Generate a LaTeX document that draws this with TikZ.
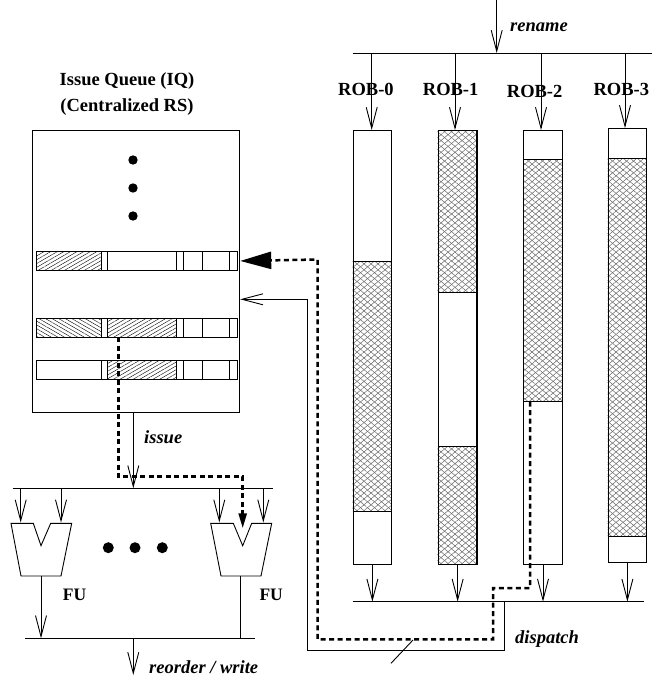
\documentclass[tikz,border=0pt]{standalone}
\usepackage{fontspec}
\setmainfont{Liberation Serif}
\usetikzlibrary{arrows.meta,patterns.meta,calc}
\begin{document}
\begin{tikzpicture}[x=1pt,y=-1pt,
  ln/.style={line width=0.9pt},
  barb/.style={ln,-{Straight Barb[length=21pt,width=11pt]}},
  dsh/.style={line width=2.5pt,dash pattern=on 5pt off 3.5pt},
  box/.style={draw,ln,rectangle,inner sep=0pt,anchor=north west},
  robbox/.style={box,minimum width=38.5pt,minimum height=434pt},
  rowbox/.style={box,minimum width=200.5pt,minimum height=19pt},
  nehatch/.style={pattern={Lines[angle=30,distance=3.3pt,line width=0.4pt]}},
  nwhatch/.style={pattern={Lines[angle=-30,distance=3.3pt,line width=0.4pt]}},
  meshA/.style={pattern={Lines[angle=40,distance=4.5pt,line width=0.5pt]},pattern color=black!60},
  meshB/.style={pattern={Lines[angle=-40,distance=4.5pt,line width=0.5pt]},pattern color=black!60},
  ttl/.style={font=\fontsize{18.5}{22}\selectfont\bfseries,inner sep=0pt,anchor=base},
  robl/.style={font=\fontsize{18.5}{22}\selectfont\bfseries,inner sep=0pt,anchor=base west},
  ful/.style={font=\fontsize{17.5}{20}\selectfont\bfseries,inner sep=0pt,anchor=base west},
  lbl/.style={font=\fontsize{18.5}{22}\selectfont\bfseries\itshape,inner sep=0pt,anchor=base west},
  fushape/.style={draw,ln,line join=miter}
]
\useasboundingbox (0,0) rectangle (652,681);

% ---------------- Issue queue ----------------
\node[ttl] (t1) at (127,85) {Issue Queue (IQ)};
\node[ttl] (t2) at (127,111) {(Centralized RS)};
\node[box,minimum width=207.3pt,minimum height=282pt] (iq) at (32,130) {};
\foreach \dy in {160,188,216} \fill (133,\dy) circle[radius=4.7];

% row 1
\fill[nehatch] (36,251) rectangle (101,270);
\node[rowbox] (row1) at (36,251) {};
\foreach \sx in {101,107.5,176.5,183,202.5,229} \draw[ln] (\sx,251) -- (\sx,270);
% row 2
\fill[nwhatch] (36,318) rectangle (101,337);
\fill[nehatch] (107.5,318) rectangle (176.5,337);
\node[rowbox] (row2) at (36,318) {};
\foreach \sx in {101,107.5,176.5,183,202.5,229} \draw[ln] (\sx,318) -- (\sx,337);
% row 3
\fill[nehatch] (107.5,360) rectangle (176.5,379);
\node[rowbox] (row3) at (36,360) {};
\foreach \sx in {101,107.5,176.5,183,202.5,229} \draw[ln] (\sx,360) -- (\sx,379);

% ---------------- Functional units ----------------
\coordinate (issuetop) at (133.3,412);
\coordinate (fubusL) at (12.7,488.3);
\coordinate (fubusR) at (273.3,488.3);
\draw[ln] (fubusL) -- (fubusR);
\draw[barb] (issuetop) -- (issuetop |- fubusL);
\node[lbl] (issuelbl) at (144,443.3) {issue};

\draw[fushape] (11,523.3) -- (33.3,523.3) -- (41,545.7) -- (50.7,523.3) -- (71.7,523.3) -- (61,576) -- (21,576) -- cycle;
\draw[fushape] (210.7,523.3) -- (233.3,523.3) -- (242.7,545.7) -- (251.7,523.3) -- (271.7,523.3) -- (261,576) -- (221,576) -- cycle;
\coordinate (fu1) at (41,576);
\coordinate (fu2) at (240,576);
\foreach \ax in {20.7,61,219.3,263.3} \draw[barb] (\ax,488.3) -- (\ax,522.5);
\foreach \ax in {108.3,135,162.3} \fill (\ax,547.7) circle[radius=5.5];
\node[ful] (fu1lbl) at (62.7,600) {FU};
\node[ful] (fu2lbl) at (259.3,600.7) {FU};

\coordinate (wbL) at (25,638.3);
\coordinate (wbR) at (255,638.3);
\draw[ln] (wbL) -- (wbR);
\draw[barb] (fu1) -- (fu1 |- wbL);
\draw[ln] (fu2) -- (fu2 |- wbL);
\draw[barb] (133.3,638.3) -- (133.3,675);
\node[lbl] (wrlbl) at (149,673.3) {reorder / write};

% ---------------- ROBs ----------------
\coordinate (renametop) at (496.7,0);
\coordinate (rbusL) at (352.7,53);
\coordinate (rbusR) at (652,53);
\draw[ln] (rbusL) -- (rbusR);
\draw[barb] (renametop) -- (renametop |- rbusL);
\node[lbl] (renamelbl) at (510,31.7) {rename};

% hatched parts
\fill[meshA] (352.7,261.7) rectangle (391.2,511.7);
\fill[meshB] (352.7,261.7) rectangle (391.2,511.7);
\fill[meshA] (437.7,130) rectangle (476.2,292.3);
\fill[meshB] (437.7,130) rectangle (476.2,292.3);
\fill[meshA] (437.7,446.7) rectangle (476.2,564);
\fill[meshB] (437.7,446.7) rectangle (476.2,564);
\fill[meshA] (523.3,159) rectangle (561.8,401.7);
\fill[meshB] (523.3,159) rectangle (561.8,401.7);
\fill[meshA] (607.7,158) rectangle (646.2,536.7);
\fill[meshB] (607.7,158) rectangle (646.2,536.7);
\draw[ln] (352.7,261.7) -- (391.2,261.7) (352.7,511.7) -- (391.2,511.7);
\draw[ln] (437.7,292.3) -- (476.2,292.3) (437.7,446.7) -- (476.2,446.7);
\draw[ln] (523.3,159) -- (561.8,159) (523.3,401.7) -- (561.8,401.7);
\draw[ln] (607.7,158) -- (646.2,158) (607.7,536.7) -- (646.2,536.7);

\node[robbox] (rob0) at (352.7,130) {};
\node[robbox,line width=1.4pt] (rob1) at (437.7,130) {};
\node[robbox] (rob2) at (523.3,130) {};
\node[robbox] (rob3) at (607.7,128) {};

\node[robl] (r0) at (338,95.7) {ROB-0};
\node[robl] (r1) at (422.7,95.7) {ROB-1};
\node[robl] (r2) at (506.7,97.7) {ROB-2};
\node[robl] (r3) at (593.3,95.7) {ROB-3};

\foreach \r/\ax in {rob0/371.7,rob1/455,rob2/541,rob3/625}
  \draw[barb] (\ax,53) -- (\ax,0 |- \r.north);

\coordinate (dbusL) at (352.7,601.7);
\coordinate (dbusR) at (644,601.7);
\draw[ln] (dbusL) -- (dbusR);
\foreach \r in {rob0,rob1,rob2,rob3}
  \draw[barb] (\r.south) -- (\r.south |- dbusL);
\node[lbl] (displbl) at (515,643.3) {dispatch};

% ---------------- dispatch paths ----------------
\coordinate (rob2head) at (530,401.7);
\draw[dsh,-{Triangle[length=31pt,width=17pt]}] (rob2head) -- (530,588) -- (493,588) -- (493,639.3) -- (317.5,639.3) -- (317.5,259.5) -- (iq.east |- row1.east);
\coordinate (dispsrc) at (504,601.7);
\draw[barb] (dispsrc) -- (504,650) -- (307.7,650) -- (307.7,299.3) -- (iq.east |- 0,299.3);
\draw[ln] (391,663.3) -- (413,640);

% issue path
\draw[dsh,-{Triangle[length=15pt,width=8pt]}] (118.5,337) -- (118.5,476.7) -- (242.7,476.7) -- (242.7,528.3);
\end{tikzpicture}
\end{document}
